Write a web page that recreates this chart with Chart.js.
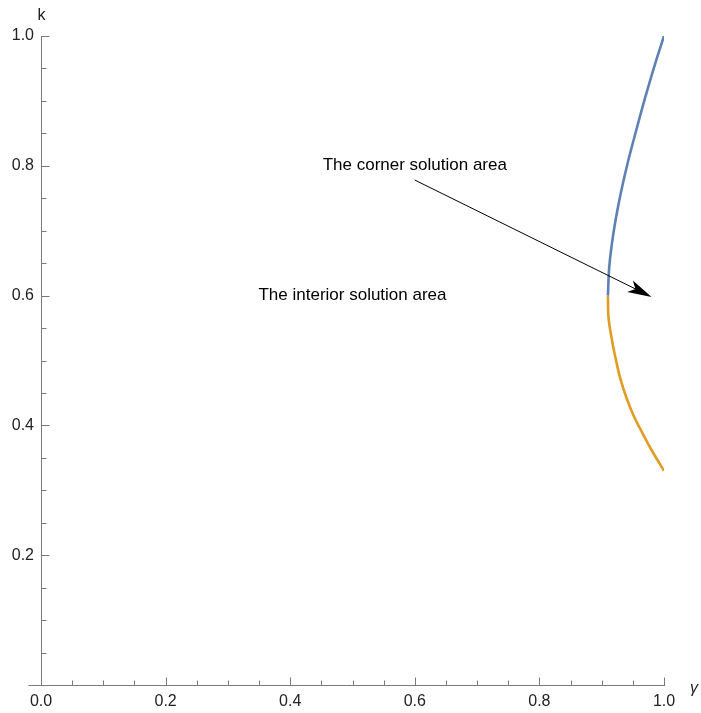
<!DOCTYPE html>
<html>
<head>
<meta charset="utf-8">
<script src="https://cdn.jsdelivr.net/npm/chart.js@4"></script>
<style>
html,body{margin:0;padding:0;background:#fff;}
canvas{display:block;}
</style>
</head>
<body>
<canvas id="c" width="701" height="713"></canvas>
<script>
// ---- data ----
const blueK     = [0.600, 0.645,  0.696,  0.747,  0.804,  0.855,  0.9065, 0.958, 1.0];
const blueGamma = [0.910, 0.9122, 0.9188, 0.9283, 0.9416, 0.9555, 0.9702, 0.986, 1.0];
const orangeK     = [0.600, 0.5675, 0.5419, 0.5059, 0.470,  0.4391, 0.4134, 0.3878, 0.3621, 0.330];
const orangeGamma = [0.910, 0.9108, 0.9145, 0.9217, 0.9305, 0.9410, 0.9520, 0.9656, 0.9800, 1.0];

const xTickValues = [0.0, 0.2, 0.4, 0.6, 0.8, 1.0];
const yTickValues = [0.2, 0.4, 0.6, 0.8, 1.0];
const xMinorTicks = [0.05, 0.1, 0.15, 0.25, 0.3, 0.35, 0.45, 0.5, 0.55, 0.65, 0.7, 0.75, 0.85, 0.9, 0.95];
const yMinorTicks = [0.05, 0.1, 0.15, 0.25, 0.3, 0.35, 0.45, 0.5, 0.55, 0.65, 0.7, 0.75, 0.85, 0.9, 0.95];

const xAxisLabel = "γ";
const yAxisLabel = "k";

const noteTexts = ["The corner solution area", "The interior solution area"];
const noteGamma = [0.6, 0.5];
const noteK = [0.8, 0.6];
const arrowStart = [0.6, 0.778];
const arrowEnd = [0.98, 0.598];

// ---- build ----
const toPoints = (xs, ys) => xs.map((x, i) => ({x: x, y: ys[i]}));
const FONT = "'Liberation Sans', Arial, sans-serif";
const AXIS_COLOR = '#7a7a7a';

const decorPlugin = {
  id: 'decor',
  beforeDatasetsDraw(chart) {
    const ctx = chart.ctx, xs = chart.scales.x, ys = chart.scales.y;
    const x0 = Math.round(xs.getPixelForValue(0)) + 0.5;
    const y0 = Math.round(ys.getPixelForValue(0)) + 0.5;
    ctx.save();
    ctx.strokeStyle = AXIS_COLOR;
    ctx.lineWidth = 1;
    ctx.beginPath();
    ctx.moveTo(x0 - 13, y0); ctx.lineTo(xs.getPixelForValue(1) + 1, y0);
    ctx.moveTo(x0, y0); ctx.lineTo(x0, ys.getPixelForValue(1));
    xTickValues.forEach(v => { const p = Math.round(xs.getPixelForValue(v)) + 0.5; ctx.moveTo(p, y0); ctx.lineTo(p, y0 - 8); });
    xMinorTicks.forEach(v => { const p = Math.round(xs.getPixelForValue(v)) + 0.5; ctx.moveTo(p, y0); ctx.lineTo(p, y0 - 5); });
    yTickValues.forEach(v => { const p = Math.round(ys.getPixelForValue(v)) + 0.5; ctx.moveTo(x0, p); ctx.lineTo(x0 + 8, p); });
    yMinorTicks.forEach(v => { const p = Math.round(ys.getPixelForValue(v)) + 0.5; ctx.moveTo(x0, p); ctx.lineTo(x0 + 5, p); });
    ctx.stroke();
    // axis labels
    ctx.fillStyle = '#222';
    ctx.font = "16px " + FONT;
    ctx.textAlign = 'center';
    ctx.textBaseline = 'middle';
    ctx.fillText(yAxisLabel, x0, 16);
    ctx.font = "italic 16px " + FONT;
    ctx.fillText(xAxisLabel, 694, y0 + 3);
    ctx.restore();
  },
  afterDatasetsDraw(chart) {
    const ctx = chart.ctx, xs = chart.scales.x, ys = chart.scales.y;
    ctx.save();
    ctx.fillStyle = '#000';
    ctx.font = "17px " + FONT;
    ctx.textAlign = 'center';
    ctx.textBaseline = 'middle';
    noteTexts.forEach((t, i) => ctx.fillText(t, xs.getPixelForValue(noteGamma[i]), ys.getPixelForValue(noteK[i])));
    // arrow
    const sx = xs.getPixelForValue(arrowStart[0]), sy = ys.getPixelForValue(arrowStart[1]);
    const ex = xs.getPixelForValue(arrowEnd[0]), ey = ys.getPixelForValue(arrowEnd[1]);
    const len = Math.hypot(ex - sx, ey - sy);
    const dx = (ex - sx) / len, dy = (ey - sy) / len;
    const nx = -dy, ny = dx;
    const L = 24, W = 6.5;
    const bx = ex - dx * L, by = ey - dy * L;
    ctx.strokeStyle = '#000';
    ctx.lineWidth = 1;
    ctx.beginPath();
    ctx.moveTo(sx, sy);
    ctx.lineTo(ex - dx * L * 0.7, ey - dy * L * 0.7);
    ctx.stroke();
    ctx.beginPath();
    ctx.moveTo(ex, ey);
    ctx.lineTo(bx + nx * W, by + ny * W);
    ctx.lineTo(ex - dx * L * 0.75, ey - dy * L * 0.75);
    ctx.lineTo(bx - nx * W, by - ny * W);
    ctx.closePath();
    ctx.fill();
    ctx.restore();
  }
};

new Chart(document.getElementById('c'), {
  type: 'scatter',
  data: {
    datasets: [
      { label: 'corner', data: toPoints(blueGamma, blueK), showLine: true, borderColor: '#5e81b5', backgroundColor: '#5e81b5', borderWidth: 2.6, pointRadius: 0, cubicInterpolationMode: 'monotone', fill: false },
      { label: 'interior', data: toPoints(orangeGamma, orangeK), showLine: true, borderColor: '#e19c24', backgroundColor: '#e19c24', borderWidth: 2.6, pointRadius: 0, cubicInterpolationMode: 'monotone', fill: false }
    ]
  },
  options: {
    indexAxis: 'y',
    responsive: false,
    animation: false,
    devicePixelRatio: 1,
    layout: { padding: { top: 36, right: 37, left: 0, bottom: 0 } },
    plugins: { legend: { display: false }, tooltip: { enabled: false } },
    scales: {
      x: {
        type: 'linear', position: 'bottom', min: 0, max: 1,
        afterBuildTicks: s => { s.ticks = xTickValues.map(v => ({ value: v })); },
        afterFit: s => { s.height = 28; },
        grid: { display: false, drawTicks: false },
        border: { display: false },
        ticks: { autoSkip: false, maxRotation: 0, padding: 7, color: '#222', font: { family: FONT, size: 16 }, callback: v => Number(v).toFixed(1) }
      },
      y: {
        type: 'linear', position: 'left', min: 0, max: 1,
        afterBuildTicks: s => { s.ticks = yTickValues.map(v => ({ value: v })); },
        afterFit: s => { s.width = 41; },
        grid: { display: false, drawTicks: false },
        border: { display: false },
        ticks: { autoSkip: false, padding: 7, color: '#222', font: { family: FONT, size: 16 }, callback: v => Number(v).toFixed(1) }
      }
    }
  },
  plugins: [decorPlugin]
});
</script>
</body>
</html>
